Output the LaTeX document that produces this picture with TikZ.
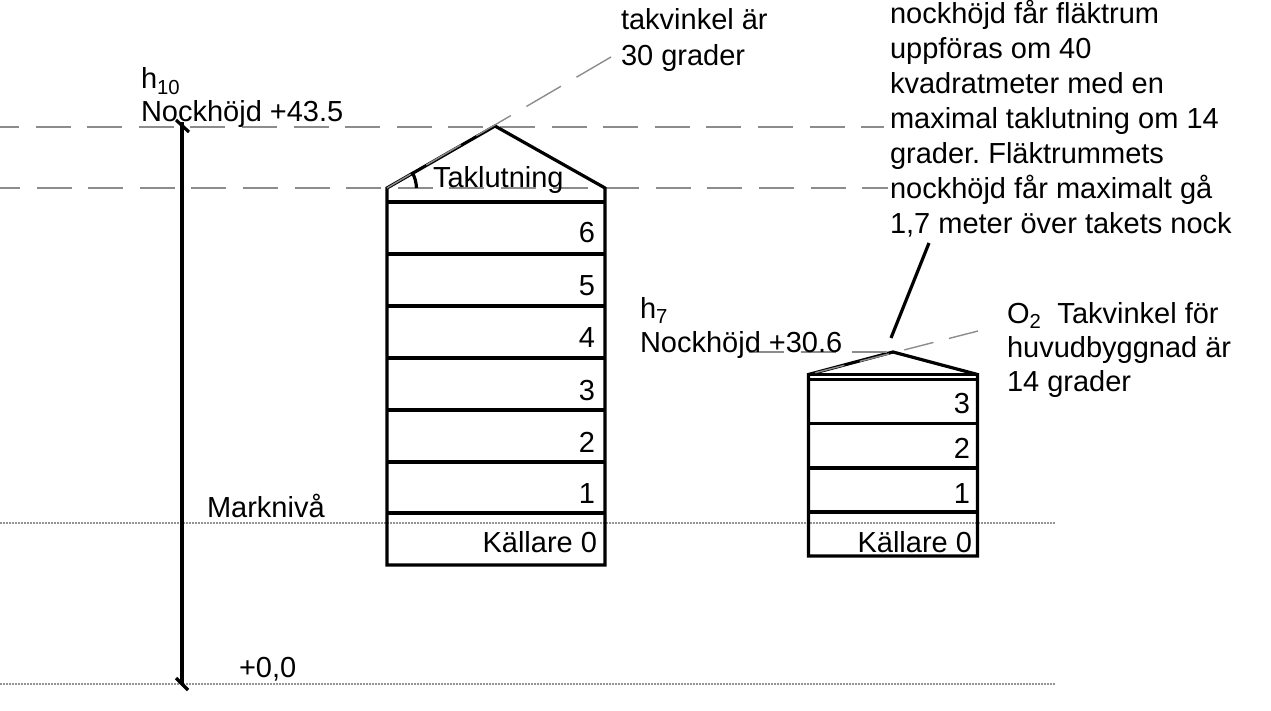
\documentclass[tikz,border=0pt]{standalone}
\usepackage{fontspec}
\setmainfont{Liberation Sans}
\frenchspacing
\tikzset{
  x=1pt,y=-1pt,
  lab/.style={anchor=base west,inner sep=0pt,outer sep=0pt,font=\fontsize{29}{35}\selectfont,align=left,text=black},
  floorlab/.style={anchor=base east,inner sep=0pt,outer sep=0pt,font=\fontsize{29}{35}\selectfont,text=black},
  heavy/.style={line width=3.2pt,black},
  gdash/.style={line width=1.4pt,color=gray!90,dash pattern=on 35pt off 16.6pt},
  gdot/.style={line width=1.1pt,color=gray!85,dash pattern=on 1.5pt off 1.5pt},
}
\newcommand{\lowsub}[1]{\textsubscript{#1}}
\begin{document}
\begin{tikzpicture}
\useasboundingbox (0,0) rectangle (1271,711);
% levels
\coordinate (ln1a) at (0,127); \coordinate (ln1b) at (884,127);
\coordinate (ln2a) at (0,188); \coordinate (ln2b) at (888,188);
\coordinate (g1a) at (0,523); \coordinate (g1b) at (1055,523);
\coordinate (g2a) at (0,684); \coordinate (g2b) at (1055,684);
\draw[gdash,dash phase=16pt] (ln1a) -- (ln1b);
\draw[gdash,dash phase=15pt] (ln2a) -- (ln2b);
\draw[gdot] (g1a) -- (g1b);
\draw[gdot] (g2a) -- (g2b);
% height line
\coordinate (ht) at (182,122); \coordinate (hb) at (182,684);
\coordinate (t1) at (176,120); \coordinate (t2) at (189,132);
\coordinate (b1) at (176,678); \coordinate (b2) at (188,690);
\draw[heavy] (ht) -- (hb);
\draw[heavy] (t1) -- (t2);
\draw[heavy] (b1) -- (b2);
% house 1
\coordinate (a1) at (387,188); \coordinate (a2) at (495,126); \coordinate (a3) at (605,188);
\coordinate (a4) at (605,565); \coordinate (a5) at (387,565);
\draw[heavy,line join=miter] (a5) -- (a1) -- (a2) -- (a3) -- (a4) -- cycle;
\foreach \yy in {202,254,306,358,410,462,513} \draw[heavy] (387,\yy) -- (605,\yy);
\coordinate (arcA) at (412,172); \coordinate (arcB) at (416.5,188);
\draw[heavy] (arcA) to[bend left=12] (arcB);
% house 2
\coordinate (c1) at (808.5,374.5); \coordinate (c2) at (893,352); \coordinate (c3) at (977.5,374.5);
\coordinate (c4) at (977.5,556); \coordinate (c5) at (808.5,556);
\draw[heavy,line join=miter] (c5) -- (c1) -- (c2) -- (c3) -- (c4) -- cycle;
\draw[heavy] (c1) -- (c3);
\foreach \yy in {379.5,423.5,468,512} \draw[heavy] (808.5,\yy) -- (977.5,\yy);
% roof extensions
\coordinate (e1) at (611,57); \coordinate (e2) at (978,331);
\coordinate (n2) at (749,352);
\draw[gdash,dash pattern=on 40pt off 18pt] (e1) -- (a1);
\draw[gdash,dash pattern=on 30pt off 16pt] (e2) -- (c1);
\draw[gdash] (n2) -- (c2);
% fan room leader
\coordinate (f1) at (891,338); \coordinate (f2) at (929,243);
\draw[heavy] (f1) -- (f2);
% labels
\node[lab] (h10) at (141,89) {h\lowsub{10}};
\node[lab] (nh1) at (141,122) {Nockhöjd +43.5};
\node[lab] (tak) at (433,188) {Taklutning};
\node[lab] (o1) at (621,30) {takvinkel är};
\node[lab] (o1b) at (621,66) {30 grader};
\node[lab] (fl1) at (890,24) {nockhöjd får fläktrum};
\node[lab] (fl2) at (890,59) {uppföras om 40};
\node[lab] (fl3) at (890,94) {kvadratmeter med en};
\node[lab] (fl4) at (890,129) {maximal taklutning om 14};
\node[lab] (fl5) at (890,164) {grader. Fläktrummets};
\node[lab] (fl6) at (890,199) {nockhöjd får maximalt gå};
\node[lab] (fl7) at (890,234) {1,7 meter över takets nock};
\node[lab] (h7) at (640,318) {h\lowsub{7}};
\node[lab] (nh2) at (640,352) {Nockhöjd +30.6};
\node[lab] (o2) at (1007,323) {O\lowsub{2}\ \ Takvinkel för};
\node[lab] (o2b) at (1007,357) {huvudbyggnad är};
\node[lab] (o2c) at (1007,391) {14 grader};
\node[lab] (mark) at (207,517) {Marknivå};
\node[lab] (noll) at (239,677) {+0,0};
\foreach \txt/\yy/\nm in {6/243/p6,5/295/p5,4/347/p4,3/400/p3,2/452/p2,1/503/p1}
  \node[floorlab] (\nm) at (595,\yy) {\txt};
\node[floorlab] (k1) at (597,552) {Källare 0};
\foreach \txt/\yy/\nm in {3/413/q3,2/458/q2,1/503/q1}
  \node[floorlab] (\nm) at (970,\yy) {\txt};
\node[floorlab] (k2) at (972,552) {Källare 0};
\end{tikzpicture}
\end{document}
